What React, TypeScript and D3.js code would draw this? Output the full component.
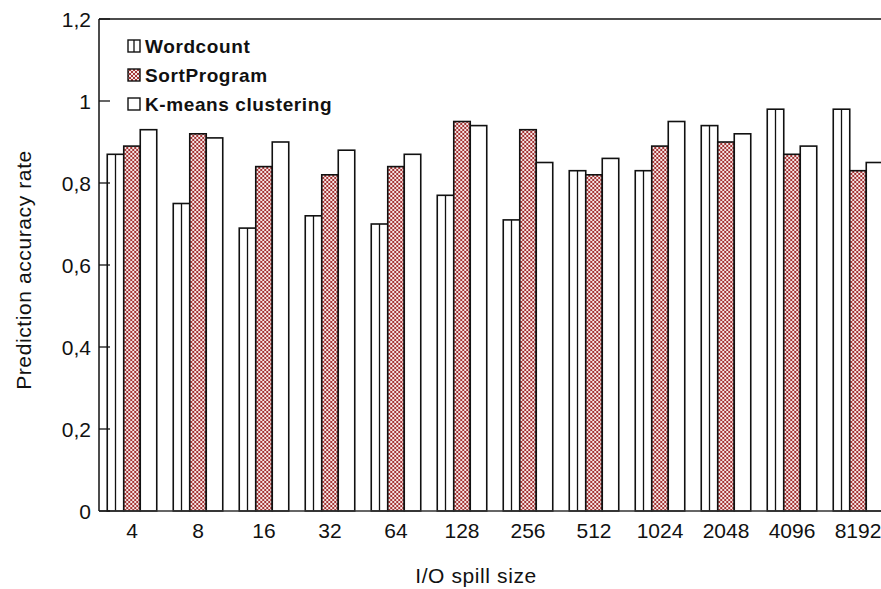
import React from "react";
import * as d3 from "d3";

const categories = ["4", "8", "16", "32", "64", "128", "256", "512", "1024", "2048", "4096", "8192"];
const wordcount = [0.87, 0.75, 0.69, 0.72, 0.7, 0.77, 0.71, 0.83, 0.83, 0.94, 0.98, 0.98];
const sortProgram = [0.89, 0.92, 0.84, 0.82, 0.84, 0.95, 0.93, 0.82, 0.89, 0.9, 0.87, 0.83];
const kmeans = [0.93, 0.91, 0.9, 0.88, 0.87, 0.94, 0.85, 0.86, 0.95, 0.92, 0.89, 0.85];
const seriesNames = ["Wordcount", "SortProgram", "K-means clustering"];
const yTicks = [0, 0.2, 0.4, 0.6, 0.8, 1, 1.2];

const width = 881;
const height = 589;
const left = 99;
const top = 19;
const bottom = 511;
const step = 66;
const font = "Liberation Sans, Arial, sans-serif";

const App = () => {
  const x = d3
    .scaleBand()
    .domain(categories)
    .range([left, left + step * categories.length])
    .paddingInner(0.25)
    .paddingOuter(0.125);
  const sub = d3.scaleBand().domain(seriesNames).range([0, x.bandwidth()]);
  const y = d3.scaleLinear().domain([0, 1.2]).range([bottom, top]);
  const fmt = (v: number) => String(v).replace(".", ",");

  const series = [wordcount, sortProgram, kmeans];
  const fills = ["white", "url(#hatch)", "white"];

  return (
    <svg width={width} height={height} style={{ position: "absolute", left: 0, top: 0, background: "white" }}>
      <defs>
        <pattern id="hatch" width="4" height="4" patternUnits="userSpaceOnUse">
          <rect width="4" height="4" fill="#f4e4e4" />
          <path d="M0,0L4,4M4,0L0,4" stroke="#a53535" strokeWidth={1} />
        </pattern>
      </defs>

      {/* bars */}
      {categories.map((c, i) => (
        <g key={c} transform={`translate(${x(c)},0)`}>
          {series.map((s, j) => {
            const bx = sub(seriesNames[j])!;
            const bw = sub.bandwidth();
            return (
              <g key={j}>
                <rect x={bx} y={y(s[i])} width={bw} height={bottom - y(s[i])} fill={fills[j]} stroke="#111" strokeWidth={1.6} />
                {j === 0 && (
                  <line x1={bx + bw / 2} x2={bx + bw / 2} y1={y(s[i])} y2={bottom} stroke="#111" strokeWidth={1.3} />
                )}
              </g>
            );
          })}
        </g>
      ))}

      {/* frame */}
      <line x1={left} x2={left} y1={top} y2={bottom} stroke="#111" strokeWidth={1.5} />
      <line x1={left} x2={width} y1={top} y2={top} stroke="#111" strokeWidth={1.5} />
      <line x1={left} x2={width} y1={bottom} y2={bottom} stroke="#333" strokeWidth={1.5} />

      {/* y axis */}
      {yTicks.map(t => (
        <g key={t}>
          <line x1={left} x2={left + 11} y1={y(t)} y2={y(t)} stroke="#111" strokeWidth={1.3} />
          <text x={91} y={y(t)} dy="0.36em" textAnchor="end" fontFamily={font} fontSize={21} fill="#111">
            {fmt(t)}
          </text>
        </g>
      ))}

      {/* x labels */}
      {categories.map(c => (
        <text key={c} x={x(c)! + x.bandwidth() / 2} y={538} textAnchor="middle" fontFamily={font} fontSize={21} fill="#111">
          {c}
        </text>
      ))}

      <text x={476} y={583} textAnchor="middle" fontFamily={font} fontSize={21} letterSpacing={0.6} fill="#111">
        I/O spill size
      </text>
      <text transform={`translate(31,270) rotate(-90)`} textAnchor="middle" fontFamily={font} fontSize={21} letterSpacing={0.6} fill="#111">
        Prediction accuracy rate
      </text>

      {/* legend */}
      {seriesNames.map((n, j) => {
        const ly = 46 + j * 29;
        return (
          <g key={n}>
            <rect x={128} y={ly - 6} width={12} height={12} fill={fills[j]} stroke="#111" strokeWidth={1.4} />
            {j === 0 && <line x1={134} x2={134} y1={ly - 6} y2={ly + 6} stroke="#111" strokeWidth={1.3} />}
            <text x={145} y={ly} dy="0.36em" fontFamily={font} fontSize={19} fontWeight="bold" letterSpacing={0.6} fill="#111">
              {n}
            </text>
          </g>
        );
      })}
    </svg>
  );
};

export default App;
